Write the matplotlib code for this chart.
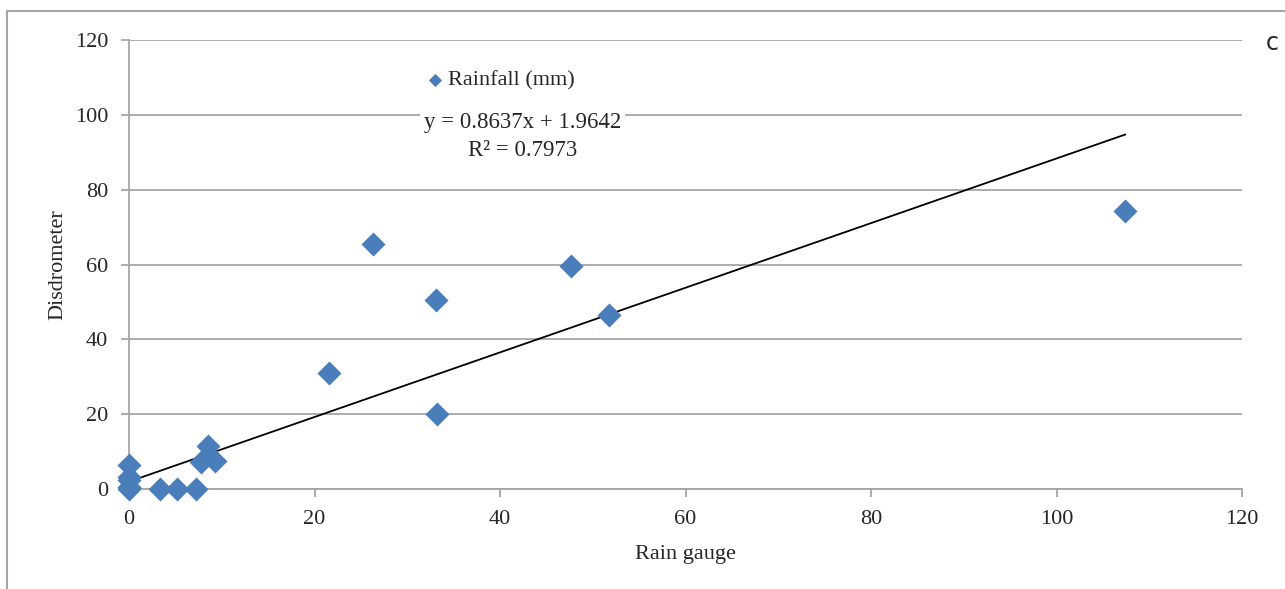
import numpy as np
import matplotlib
matplotlib.use("Agg")
import matplotlib.pyplot as plt
from matplotlib.patches import Rectangle

# rain gauge vs disdrometer rainfall (mm)
rain_gauge = [0, 0, 0, 0, 0, 3.3, 5.2, 7.2, 7.8, 8.5, 9.3, 21.6, 26.3,
              33.1, 33.2, 47.7, 51.8, 107.4]
disdrometer = [0, 0.5, 2.5, 3.2, 6.4, 0, 0, 0, 7.2, 11.5, 7.5, 31.0, 65.5,
               50.5, 20.0, 59.6, 46.5, 74.3]
slope = 0.8637
intercept = 1.9642
r2 = 0.7973
xticks = [0, 20, 40, 60, 80, 100, 120]
yticks = [0, 20, 40, 60, 80, 100, 120]

blue = '#4a7ebb'
grey = '#a6a6a6'
txt = '#262626'
serif = ['Liberation Serif', 'DejaVu Serif']

plt.rcParams['font.family'] = serif

fig = plt.figure(figsize=(12.85, 5.89), dpi=100)
# outer chart frame
fig.patches.append(Rectangle((7/1285, -0.1), 1.2, 1 - 11/589 + 0.1,
                             transform=fig.transFigure, fill=False,
                             edgecolor=grey, linewidth=1.5))
ax = fig.add_axes([129/1285, 1 - 489/589, (1242 - 129)/1285, (489 - 40)/589])

ax.scatter(rain_gauge, disdrometer, marker='D', s=150, color=blue,
           zorder=3, label='Rainfall (mm)', linewidths=0, clip_on=False)
xs = np.array([min(rain_gauge), max(rain_gauge)])
ax.plot(xs, slope*xs + intercept, color='black', lw=1.3, zorder=2)

ax.set_xlim(0, 120)
ax.set_ylim(0, 120)
ax.set_xticks(xticks)
ax.set_yticks(yticks)
ax.grid(axis='y', color=grey, lw=1.3)
ax.set_axisbelow(True)
for s in ['top', 'right']:
  ax.spines[s].set_visible(False)
for s in ['left', 'bottom']:
  ax.spines[s].set_color(grey)
  ax.spines[s].set_linewidth(1.3)
ax.tick_params(axis='both', colors=grey, length=6, width=1.3,
               labelsize=16, labelcolor=txt)
ax.tick_params(axis='x', pad=9)
ax.tick_params(axis='y', pad=9)
ax.set_xlabel('Rain gauge', fontsize=16, color=txt, labelpad=12)
ax.set_ylabel('Disdrometer', fontsize=16, color=txt, labelpad=5)

ax.legend(loc='upper left', bbox_to_anchor=(0.237, 0.978), frameon=False,
          fontsize=16, handletextpad=-0.4, markerscale=0.55,
          labelcolor=txt)

ax.text(42.4, 94.3, 'y = %.4fx + %.4f\nR² = %.4f' % (slope, intercept, r2),
        fontsize=16.5, color=txt, ha='center', va='center',
        linespacing=1.42,
        bbox=dict(facecolor='white', edgecolor='none', pad=3), zorder=4)

fig.text(1272/1285, 1 - 43/589, 'c', fontsize=17, family='DejaVu Sans',
         color=txt, ha='center', va='center')

fig.savefig('out.png', dpi=100)
